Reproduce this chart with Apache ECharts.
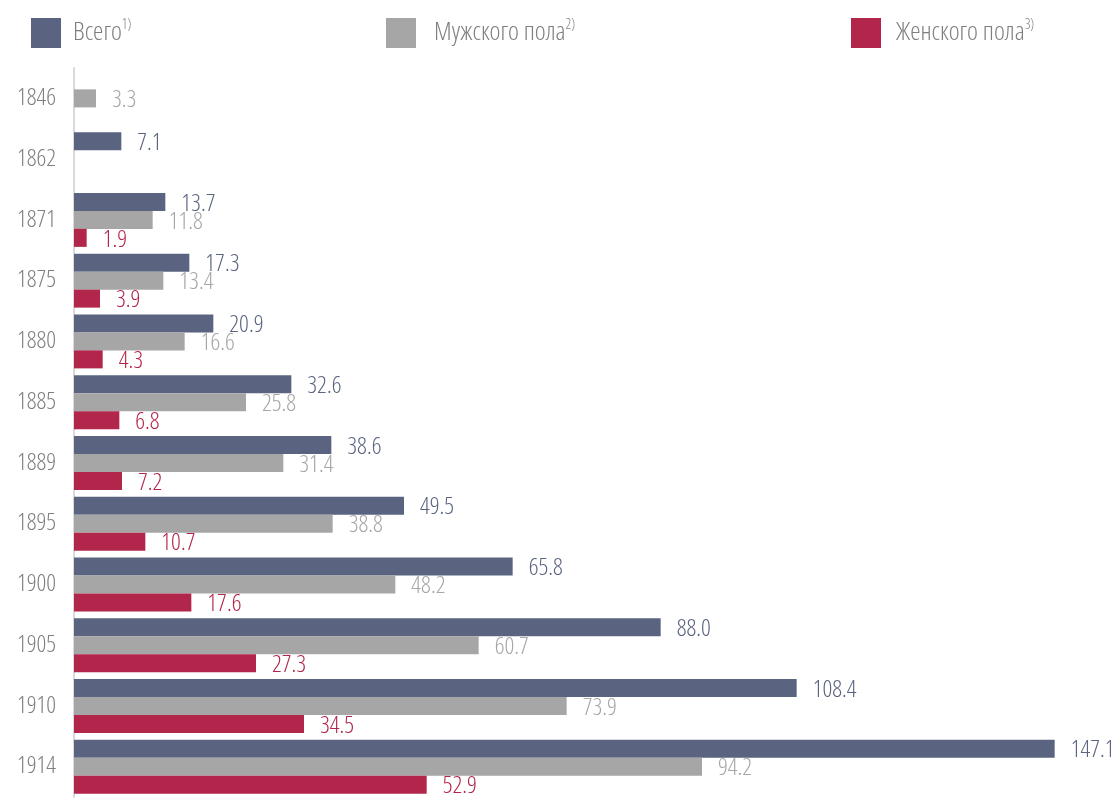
<!DOCTYPE html>
<html>
<head>
<meta charset="utf-8">
<script src="https://cdn.jsdelivr.net/npm/echarts@6/dist/echarts.min.js"></script>
<style>
html, body { margin: 0; padding: 0; background: #fff; }
#chart { width: 1113px; height: 798px; }
</style>
</head>
<body>
<div id="chart"></div>
<script>
// годы
var years = ['1846', '1862', '1871', '1875', '1880', '1885', '1889', '1895', '1900', '1905', '1910', '1914'];
// всего
var vsego = ['-', 7.1, 13.7, 17.3, 20.9, 32.6, 38.6, 49.5, 65.8, 88.0, 108.4, 147.1];
// мужского пола
var muzh = [3.3, '-', 11.8, 13.4, 16.6, 25.8, 31.4, 38.8, 48.2, 60.7, 73.9, 94.2];
// женского пола
var zhen = ['-', '-', 1.9, 3.9, 4.3, 6.8, 7.2, 10.7, 17.6, 27.3, 34.5, 52.9];

var names = ['Всего', 'Мужского пола', 'Женского пола'];
var sups = ['1)', '2)', '3)'];
var colors = ['#5a6480', '#a6a6a6', '#b1264a'];
// узкий шрифт: Open Sans с сжатием
var font = '"Open Sans", "Roboto Condensed", sans-serif';
var fw = '300 condensed';

function makeLegend(i, left, gap) {
    return {
        data: [names[i]],
        left: left,
        top: 18,
        padding: 0,
        icon: 'rect',
        itemWidth: 30,
        itemHeight: 30,
        itemGap: 0,
        selectedMode: false,
        formatter: function (n) {
            return '{t|' + n + '}{s|' + sups[i] + '}';
        },
        textStyle: {
            rich: {
                t: { fontFamily: font, fontWeight: fw, fontSize: 26, color: '#7f7f7f', lineHeight: 30, padding: [0, 0, 0, gap] },
                s: { fontFamily: font, fontWeight: fw, fontSize: 14, color: '#7f7f7f', verticalAlign: 'top', lineHeight: 14 }
            }
        }
    };
}

function makeSeries(i, data) {
    return {
        name: names[i],
        type: 'bar',
        data: data,
        barWidth: 18,
        barGap: '0%',
        itemStyle: { color: colors[i] },
        label: {
            show: true,
            position: 'right',
            distance: 16,
            offset: [0, 2],
            color: colors[i],
            fontFamily: font,
            fontWeight: fw,
            fontSize: 24,
            formatter: function (p) { return p.value.toFixed(1); }
        }
    };
}

var myChart = echarts.init(document.getElementById('chart'));
var option = {
    animation: false,
    backgroundColor: '#fff',
    legend: [makeLegend(0, 31, 7), makeLegend(1, 386, 13), makeLegend(2, 851, 10)],
    grid: { left: 74, right: 39, top: 68, bottom: 1, containLabel: false },
    xAxis: {
        type: 'value',
        min: 0,
        max: 150,
        show: false
    },
    yAxis: {
        type: 'category',
        data: years,
        inverse: true,
        axisLine: { show: true, lineStyle: { color: '#d9d9d9', width: 2 } },
        axisTick: { show: false },
        axisLabel: { color: '#7f7f7f', fontFamily: font, fontWeight: fw, fontSize: 24, margin: 18 }
    },
    series: [makeSeries(0, vsego), makeSeries(1, muzh), makeSeries(2, zhen)]
};
myChart.setOption(option);
</script>
</body>
</html>
